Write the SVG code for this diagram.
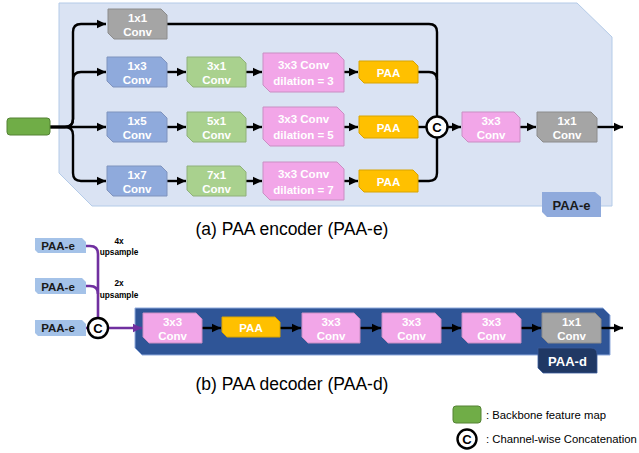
<svg xmlns="http://www.w3.org/2000/svg" width="639" height="453" viewBox="0 0 639 453">
<defs>
<marker id="ah" markerUnits="userSpaceOnUse" markerWidth="10" markerHeight="10" refX="9" refY="5" orient="auto"><path d="M0,0.8 L9,5 L0,9.2 Z" fill="#000"/></marker>
<marker id="ahp" markerUnits="userSpaceOnUse" markerWidth="10" markerHeight="10" refX="9" refY="5" orient="auto"><path d="M0,0.8 L9,5 L0,9.2 Z" fill="#7030a0"/></marker>
<style>
text{font-family:"Liberation Sans",Arial,sans-serif;}
.bt{fill:#fff;font-weight:bold;font-size:11.5px;text-anchor:middle;}
.gray{fill:#a5a5a5;stroke:#8c8c8c;stroke-width:1;}
.blue{fill:#8faadc;stroke:#7f93bd;stroke-width:1;}
.green{fill:#a9d18e;stroke:#8fb07a;stroke-width:1;}
.pink{fill:#f2a6e8;stroke:#c98ec3;stroke-width:1;}
.yel{fill:#ffc000;stroke:#d9a400;stroke-width:1;}
.ln{fill:none;stroke:#000;stroke-width:2.4;}
.pl{fill:none;stroke:#7030a0;stroke-width:2.6;}
.circ{fill:#fff;stroke:#000;stroke-width:2.4;}
.ct{font-weight:bold;font-size:13px;text-anchor:middle;fill:#000;}
.cap{font-size:17.5px;fill:#000;text-anchor:middle;}
.lg{font-size:11.3px;fill:#000;}
.up{font-size:8.3px;font-weight:bold;text-anchor:middle;fill:#000;}
.pe{fill:#a4c2e8;}
.pet{font-weight:bold;font-size:11.5px;fill:#1a1a1a;text-anchor:middle;}
</style>
</defs>

<!-- Encoder background -->
<g id="encoder-bg">
<path d="M59,3 H577 L612,37 V206 H92 L59,173 Z" fill="#dae3f3" stroke="#b4cbe8" stroke-width="1"/>
</g>
<g id="paa-e-label">
<path d="M542,192 H595 L601,197 V217 H547 L542,212 Z" fill="#8faadc"/>
<text x="571.5" y="209.5" style="font-weight:bold;font-size:13px;fill:#1a1a1a;text-anchor:middle">PAA-e</text>
</g>

<!-- connectors -->
<g id="connectors">
<path class="ln" marker-end="url(#ah)" d="M50,127 H65 Q73,127 73,119 V32 Q73,24 81,24 H106"/>
<path class="ln" marker-end="url(#ah)" d="M50,127 H65 Q73,127 73,119 V80 Q73,72 81,72 H106"/>
<path class="ln" marker-end="url(#ah)" d="M50,127 H106"/>
<path class="ln" marker-end="url(#ah)" d="M50,127 H65 Q73,127 73,135 V173 Q73,181 81,181 H106"/>
<path class="ln" marker-end="url(#ah)" d="M167,72 H186"/>
<path class="ln" marker-end="url(#ah)" d="M167,127 H186"/>
<path class="ln" marker-end="url(#ah)" d="M167,181 H186"/>
<path class="ln" marker-end="url(#ah)" d="M246,72 H262"/>
<path class="ln" marker-end="url(#ah)" d="M246,127 H262"/>
<path class="ln" marker-end="url(#ah)" d="M246,181 H262"/>
<path class="ln" marker-end="url(#ah)" d="M344,72 H358"/>
<path class="ln" marker-end="url(#ah)" d="M344,127 H358"/>
<path class="ln" marker-end="url(#ah)" d="M344,181 H358"/>
<path class="ln" d="M167,24 H429 Q437,24 437,32 V117"/>
<path class="ln" d="M418,72 H429 Q437,72 437,80"/>
<path class="ln" d="M418,181 H429 Q437,181 437,173 V137"/>
<path class="ln" d="M418,127 H427"/>
<path class="ln" marker-end="url(#ah)" d="M447,127 H461"/>
<path class="ln" marker-end="url(#ah)" d="M520,127 H536"/>
<path class="ln" marker-end="url(#ah)" d="M597,127 H623"/>
</g>

<g id="backbone"><rect x="7" y="118" width="43" height="17" rx="3" fill="#70ad47" stroke="#548235" stroke-width="1"/></g>

<g id="enc-1x1-top"><path class="gray" d="M108,9 H161 L167,15 V39 H114 L108,33 Z"/><text class="bt" x="137.5" y="22">1x1</text><text class="bt" x="137.5" y="36">Conv</text></g>

<g id="enc-1x3"><path class="blue" d="M107,57 H161 L167,63 V87 H113 L107,81 Z"/><text class="bt" x="137" y="70">1x3</text><text class="bt" x="137" y="84">Conv</text></g>
<g id="enc-1x5"><path class="blue" d="M107,112 H161 L167,118 V142 H113 L107,136 Z"/><text class="bt" x="137" y="125">1x5</text><text class="bt" x="137" y="139">Conv</text></g>
<g id="enc-1x7"><path class="blue" d="M107,166 H161 L167,172 V196 H113 L107,190 Z"/><text class="bt" x="137" y="179">1x7</text><text class="bt" x="137" y="193">Conv</text></g>

<g id="enc-3x1"><path class="green" d="M187,57 H240 L246,63 V87 H193 L187,81 Z"/><text class="bt" x="216.5" y="70">3x1</text><text class="bt" x="216.5" y="84">Conv</text></g>
<g id="enc-5x1"><path class="green" d="M187,112 H240 L246,118 V142 H193 L187,136 Z"/><text class="bt" x="216.5" y="125">5x1</text><text class="bt" x="216.5" y="139">Conv</text></g>
<g id="enc-7x1"><path class="green" d="M187,166 H240 L246,172 V196 H193 L187,190 Z"/><text class="bt" x="216.5" y="179">7x1</text><text class="bt" x="216.5" y="193">Conv</text></g>

<g id="enc-dil3"><path class="pink" d="M263,53 H337 L344,60 V92 H270 L263,85 Z"/><text class="bt" x="303.5" y="69">3x3 Conv</text><text class="bt" x="303.5" y="85">dilation = 3</text></g>
<g id="enc-dil5"><path class="pink" d="M263,107 H337 L344,114 V146 H270 L263,139 Z"/><text class="bt" x="303.5" y="123">3x3 Conv</text><text class="bt" x="303.5" y="139">dilation = 5</text></g>
<g id="enc-dil7"><path class="pink" d="M263,162 H337 L344,169 V200 H270 L263,193 Z"/><text class="bt" x="303.5" y="177.5">3x3 Conv</text><text class="bt" x="303.5" y="193.5">dilation = 7</text></g>

<g id="enc-paa1"><path class="yel" d="M359,61 H413 L418,66 V83 H364 L359,78 Z"/><text class="bt" x="388.5" y="76.5">PAA</text></g>
<g id="enc-paa2"><path class="yel" d="M359,116 H413 L418,121 V138 H364 L359,133 Z"/><text class="bt" x="388.5" y="131.5">PAA</text></g>
<g id="enc-paa3"><path class="yel" d="M359,170 H413 L418,175 V192 H364 L359,187 Z"/><text class="bt" x="388.5" y="185.5">PAA</text></g>

<g id="enc-concat"><circle class="circ" cx="437" cy="127" r="10.5"/><text class="ct" x="437" y="131.5">C</text></g>

<g id="enc-3x3"><path class="pink" d="M462,112 H514 L520,118 V142 H468 L462,136 Z"/><text class="bt" x="491" y="125">3x3</text><text class="bt" x="491" y="139">Conv</text></g>
<g id="enc-1x1-out"><path class="gray" d="M537,112 H591 L597,118 V142 H543 L537,136 Z"/><text class="bt" x="567" y="125">1x1</text><text class="bt" x="567" y="139">Conv</text></g>

<text class="cap" x="292" y="235">(a) PAA encoder (PAA-e)</text>

<!-- Decoder -->
<g id="decoder-bg">
<path d="M135,308 H603 L610,315 V355 H142 L135,348 Z" fill="#2f5597" stroke="#8faadc" stroke-width="1"/>
</g>
<g id="paa-d-label">
<path d="M538,348 H591 Q597,348 597,354 V373 H543 L538,368 Z" fill="#203864" stroke="#3a5a99" stroke-width="0.8"/>
<text x="567.5" y="366" style="font-weight:bold;font-size:13px;fill:#fff;text-anchor:middle">PAA-d</text>
</g>

<g id="dec-connectors">
<path class="pl" d="M86,246 H90 Q98,246 98,254 V318"/>
<path class="pl" d="M86,286 H90 Q98,286 98,294"/>
<path class="pl" d="M86,328 H88"/>
<path class="pl" marker-end="url(#ahp)" d="M108,328 H142"/>
<path class="ln" marker-end="url(#ah)" d="M202,328 H221"/>
<path class="ln" marker-end="url(#ah)" d="M280,328 H301"/>
<path class="ln" marker-end="url(#ah)" d="M360,328 H381"/>
<path class="ln" marker-end="url(#ah)" d="M441,328 H461"/>
<path class="ln" marker-end="url(#ah)" d="M521,328 H541"/>
<path class="ln" marker-end="url(#ah)" d="M601,328 H623"/>
</g>

<g id="dec-in1"><path class="pe" d="M35,238 H82 L86,242 V253 H38 L35,250 Z"/><text class="pet" x="58" y="250">PAA-e</text></g>
<g id="dec-in2"><path class="pe" d="M35,278 H82 L86,282 V294 H38 L35,291 Z"/><text class="pet" x="58" y="290.5">PAA-e</text></g>
<g id="dec-in3"><path class="pe" d="M35,320 H82 L86,324 V336 H38 L35,333 Z"/><text class="pet" x="58" y="332">PAA-e</text></g>

<text class="up" x="119" y="243.5">4x</text>
<text class="up" x="119" y="255">upsample</text>
<text class="up" x="119" y="286">2x</text>
<text class="up" x="119" y="297.5">upsample</text>

<g id="dec-concat"><circle class="circ" cx="98" cy="328" r="10"/><text class="ct" x="98" y="332.5">C</text></g>

<g id="dec-3x3a"><path class="pink" d="M143,313 H196 L202,319 V343 H149 L143,337 Z"/><text class="bt" x="172.5" y="326">3x3</text><text class="bt" x="172.5" y="340">Conv</text></g>
<g id="dec-paa"><path class="yel" d="M222,317 H275 L280,322 V337 H227 L222,332 Z"/><text class="bt" x="251" y="331.5">PAA</text></g>
<g id="dec-3x3b"><path class="pink" d="M302,313 H354 L360,319 V343 H308 L302,337 Z"/><text class="bt" x="331" y="326">3x3</text><text class="bt" x="331" y="340">Conv</text></g>
<g id="dec-3x3c"><path class="pink" d="M382,313 H435 L441,319 V343 H388 L382,337 Z"/><text class="bt" x="411.5" y="326">3x3</text><text class="bt" x="411.5" y="340">Conv</text></g>
<g id="dec-3x3d"><path class="pink" d="M462,313 H515 L521,319 V343 H468 L462,337 Z"/><text class="bt" x="491.5" y="326">3x3</text><text class="bt" x="491.5" y="340">Conv</text></g>
<g id="dec-1x1"><path class="gray" d="M542,313 H595 L601,319 V343 H548 L542,337 Z"/><text class="bt" x="571.5" y="326">1x1</text><text class="bt" x="571.5" y="340">Conv</text></g>

<text class="cap" x="292" y="390">(b) PAA decoder (PAA-d)</text>

<!-- Legend -->
<g id="legend-backbone"><rect x="453" y="406" width="28" height="17" rx="3" fill="#70ad47" stroke="#548235" stroke-width="1"/><text class="lg" x="486" y="418.5">: Backbone feature map</text></g>
<g id="legend-concat"><circle class="circ" cx="467" cy="439" r="9.5"/><text class="ct" x="467" y="443.5">C</text><text class="lg" x="486" y="443">: Channel-wise Concatenation</text></g>
</svg>
